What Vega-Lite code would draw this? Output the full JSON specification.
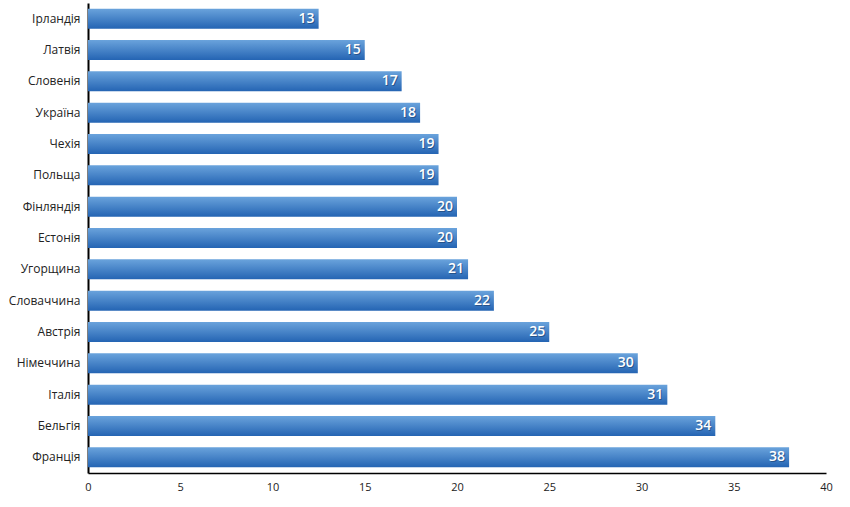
{
  "$schema": "https://vega.github.io/schema/vega-lite/v6.json",
  "autosize": "none",
  "padding": {"left": 88, "top": 3, "right": 24, "bottom": 34},
  "width": 738,
  "height": 470,
  "data": {
    "values": [
      {"country": "Ірландія", "value": 12.5},
      {"country": "Латвія", "value": 15},
      {"country": "Словенія", "value": 17},
      {"country": "Україна", "value": 18},
      {"country": "Чехія", "value": 19},
      {"country": "Польща", "value": 19},
      {"country": "Фінляндія", "value": 20},
      {"country": "Естонія", "value": 20},
      {"country": "Угорщина", "value": 20.6},
      {"country": "Словаччина", "value": 22},
      {"country": "Австрія", "value": 25},
      {"country": "Німеччина", "value": 29.8},
      {"country": "Італія", "value": 31.4},
      {"country": "Бельгія", "value": 34},
      {"country": "Франція", "value": 38}
    ]
  },
  "encoding": {
    "y": {
      "field": "country",
      "type": "nominal",
      "sort": null,
      "title": null,
      "scale": {"paddingInner": 0.36, "paddingOuter": 0.18},
      "axis": {
        "domainColor": "#000000",
        "domainWidth": 2,
        "ticks": false,
        "labelPadding": 8,
        "labelFontSize": 12,
        "labelColor": "#222222",
        "labelFont": "Open Sans"
      }
    },
    "x": {
      "field": "value",
      "type": "quantitative",
      "title": null,
      "scale": {"domain": [0, 40], "nice": false},
      "axis": {
        "values": [0, 5, 10, 15, 20, 25, 30, 35, 40],
        "grid": false,
        "ticks": false,
        "labelFlush": false,
        "domainColor": "#000000",
        "domainWidth": 1.5,
        "labelPadding": 8,
        "labelFontSize": 11,
        "labelColor": "#222222",
        "labelFont": "Open Sans"
      }
    }
  },
  "layer": [
    {
      "mark": {
        "type": "bar",
        "color": {
          "gradient": "linear",
          "x1": 0, "y1": 0, "x2": 0, "y2": 1,
          "stops": [
            {"offset": 0, "color": "#6aa3dc"},
            {"offset": 1, "color": "#2464b3"}
          ]
        }
      }
    },
    {
      "mark": {
        "type": "text",
        "align": "right",
        "dx": -3,
        "dy": 1,
        "fontSize": 14,
        "fontWeight": 600,
        "font": "Open Sans",
        "color": "#1a3d6b",
        "opacity": 0.6
      },
      "encoding": {"text": {"field": "value", "format": ".0f"}}
    },
    {
      "mark": {
        "type": "text",
        "align": "right",
        "dx": -4,
        "fontSize": 14,
        "fontWeight": 600,
        "font": "Open Sans",
        "color": "#ffffff"
      },
      "encoding": {"text": {"field": "value", "format": ".0f"}}
    }
  ],
  "config": {"view": {"stroke": null}}
}
